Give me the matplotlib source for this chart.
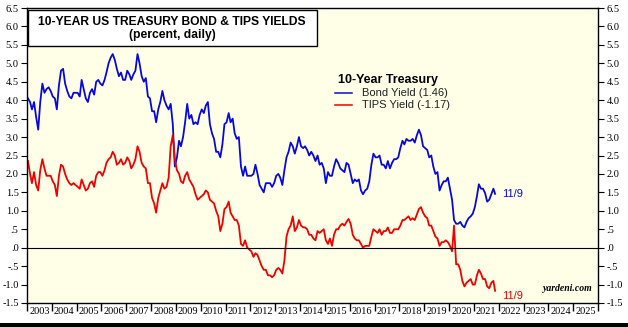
import numpy as np
import pandas as pd
import matplotlib
matplotlib.use("Agg")
import matplotlib.pyplot as plt
import matplotlib.dates as mdates
from matplotlib.patches import Rectangle
from matplotlib.ticker import FuncFormatter, FixedLocator

# Monthly readings, Jan 2003 .. Oct 2021, then the 11/9/2021 close
bond_yield = [
    4.05, 3.95, 3.75, 3.95, 3.55, 3.20, 3.95, 4.45, 4.20, 4.30, 4.35, 4.25,  # 2003
    4.10, 4.05, 3.75, 4.40, 4.80, 4.85, 4.45, 4.25, 4.10, 4.05, 4.20, 4.20,  # 2004
    4.20, 4.10, 4.55, 4.30, 4.05, 3.95, 4.20, 4.30, 4.15, 4.50, 4.55, 4.45,  # 2005
    4.40, 4.55, 4.75, 5.00, 5.15, 5.25, 5.10, 4.85, 4.65, 4.75, 4.55, 4.55,  # 2006
    4.80, 4.70, 4.55, 4.70, 4.80, 5.25, 5.00, 4.65, 4.50, 4.60, 4.10, 4.05,  # 2007
    3.70, 3.70, 3.40, 3.75, 3.95, 4.25, 4.00, 3.85, 3.75, 3.90, 3.35, 2.20,  # 2008
    2.45, 2.90, 2.75, 3.00, 3.40, 3.90, 3.50, 3.60, 3.35, 3.40, 3.35, 3.60,  # 2009
    3.75, 3.65, 3.85, 3.95, 3.35, 3.10, 2.95, 2.60, 2.60, 2.45, 2.80, 3.35,  # 2010
    3.40, 3.65, 3.40, 3.50, 3.10, 2.95, 3.00, 2.20, 1.95, 2.20, 1.95, 1.95,  # 2011
    1.95, 2.00, 2.25, 2.00, 1.70, 1.60, 1.50, 1.75, 1.75, 1.75, 1.65, 1.75,  # 2012
    1.95, 2.00, 1.90, 1.70, 2.10, 2.45, 2.60, 2.85, 2.75, 2.55, 2.75, 3.00,  # 2013
    2.75, 2.70, 2.75, 2.65, 2.50, 2.60, 2.50, 2.35, 2.50, 2.25, 2.30, 2.15,  # 2014
    1.75, 2.05, 1.95, 1.95, 2.20, 2.40, 2.30, 2.15, 2.10, 2.05, 2.30, 2.25,  # 2015
    2.00, 1.75, 1.85, 1.80, 1.85, 1.55, 1.45, 1.55, 1.60, 1.80, 2.25, 2.55,  # 2016
    2.45, 2.45, 2.50, 2.25, 2.25, 2.15, 2.35, 2.15, 2.30, 2.40, 2.40, 2.45,  # 2017
    2.70, 2.90, 2.80, 2.95, 2.90, 2.90, 2.95, 2.85, 3.05, 3.20, 3.05, 2.75,  # 2018
    2.70, 2.65, 2.45, 2.50, 2.20, 2.00, 2.05, 1.55, 1.70, 1.80, 1.80, 1.90,  # 2019
    1.60, 1.30, 0.75, 0.65, 0.65, 0.70, 0.60, 0.55, 0.70, 0.80, 0.85, 0.92,  # 2020
    1.10, 1.40, 1.72, 1.60, 1.60, 1.48, 1.25, 1.30, 1.45, 1.60, 1.46,        # 2021
]

tips_yield = [
    2.35, 2.00, 1.75, 2.05, 1.70, 1.55, 2.10, 2.40, 2.15, 1.95, 1.95, 1.95,  # 2003
    1.80, 1.70, 1.40, 1.95, 2.25, 2.20, 2.00, 1.85, 1.75, 1.70, 1.75, 1.70,  # 2004
    1.65, 1.60, 1.85, 1.70, 1.55, 1.60, 1.75, 1.80, 1.65, 1.95, 2.05, 2.05,  # 2005
    1.95, 2.10, 2.30, 2.40, 2.45, 2.60, 2.50, 2.25, 2.30, 2.40, 2.25, 2.30,  # 2006
    2.45, 2.35, 2.15, 2.25, 2.40, 2.75, 2.60, 2.30, 2.20, 2.15, 1.75, 1.75,  # 2007
    1.35, 1.20, 0.95, 1.35, 1.55, 1.75, 1.60, 1.65, 1.90, 2.75, 3.05, 2.40,  # 2008
    2.10, 2.00, 1.80, 1.75, 1.95, 2.05, 1.85, 1.75, 1.65, 1.45, 1.30, 1.35,  # 2009
    1.40, 1.45, 1.55, 1.50, 1.30, 1.25, 1.20, 1.00, 0.85, 0.45, 0.65, 1.05,  # 2010
    1.10, 1.25, 0.95, 0.85, 0.75, 0.75, 0.60, 0.10, 0.05, 0.20, 0.00, -0.05,  # 2011
    -0.10, -0.25, -0.15, -0.20, -0.35, -0.50, -0.60, -0.60, -0.75, -0.75, -0.80, -0.75,  # 2012
    -0.60, -0.55, -0.60, -0.70, -0.35, 0.30, 0.50, 0.60, 0.85, 0.45, 0.55, 0.75,  # 2013
    0.60, 0.55, 0.55, 0.50, 0.35, 0.35, 0.25, 0.20, 0.45, 0.40, 0.45, 0.50,  # 2014
    0.20, 0.10, 0.25, 0.05, 0.35, 0.50, 0.50, 0.60, 0.65, 0.60, 0.70, 0.78,  # 2015
    0.65, 0.35, 0.25, 0.20, 0.20, 0.10, 0.00, 0.05, 0.05, 0.05, 0.30, 0.50,  # 2016
    0.45, 0.40, 0.50, 0.35, 0.45, 0.45, 0.55, 0.40, 0.40, 0.50, 0.50, 0.50,  # 2017
    0.60, 0.75, 0.75, 0.80, 0.85, 0.75, 0.80, 0.75, 0.90, 1.05, 1.10, 0.95,  # 2018
    0.85, 0.80, 0.60, 0.60, 0.45, 0.30, 0.25, 0.05, 0.15, 0.15, 0.20, 0.15,  # 2019
    0.05, -0.10, 0.60, -0.45, -0.45, -0.60, -0.90, -1.05, -0.95, -0.90, -0.85, -1.00,  # 2020
    -1.00, -0.75, -0.60, -0.70, -0.85, -0.85, -1.05, -1.10, -0.95, -0.90, -1.17,  # 2021
]

month_dates = pd.date_range("2003-01-01", "2021-10-01", freq="MS") + pd.Timedelta(days=14)
dates = list(month_dates) + [pd.Timestamp("2021-11-09")]

years = list(range(2003, 2026))
y_ticks = np.arange(-1.5, 6.51, 0.5)

bg = "#ffffe8"
blue = "#0808dc"
red = "#f00000"
tick_font = "Liberation Serif"
text_font = "Liberation Sans"


def yfmt(v, pos):
    s = f"{v:.1f}"
    return s.replace("0.", ".") if abs(v) < 1 else s


fig = plt.figure(figsize=(6.28, 3.27), dpi=100)
ax = fig.add_axes([27 / 628, 24 / 327, 571 / 628, 295 / 327])
ax.set_facecolor(bg)

ax.plot(dates, bond_yield, color=blue, lw=1.3)
ax.plot(dates, tips_yield, color=red, lw=1.3)
ax.axhline(0, color="black", lw=0.8)

ax.set_xlim(pd.Timestamp("2003-01-01"), pd.Timestamp("2026-01-01"))
ax.set_ylim(-1.5, 6.5)

# year boundaries get the tick marks, labels sit mid-year
ax.xaxis.set_major_locator(FixedLocator(mdates.date2num([pd.Timestamp(f"{y}-01-01") for y in years + [2026]])))
ax.xaxis.set_major_formatter(FuncFormatter(lambda v, p: ""))
ax.xaxis.set_minor_locator(FixedLocator(mdates.date2num([pd.Timestamp(f"{y}-07-02") for y in years])))
ax.xaxis.set_minor_formatter(FuncFormatter(lambda v, p: str(mdates.num2date(v).year)))
ax.tick_params(axis="x", which="major", direction="out", length=6, width=1)
ax.tick_params(axis="x", which="minor", length=0, pad=3, labelsize=7.5)

ax.set_yticks(y_ticks)
ax.yaxis.set_major_formatter(FuncFormatter(yfmt))
ax.tick_params(axis="y", direction="out", length=4, width=0.8, labelsize=7.5,
               left=True, right=True, labelleft=True, labelright=True, pad=2)

for lbl in ax.get_xticklabels(minor=True) + ax.get_yticklabels():
    lbl.set_fontfamily(tick_font)
for t in ax.yaxis.get_major_ticks():
    t.label2.set_fontfamily(tick_font)

for s in ax.spines.values():
    s.set_linewidth(1)
    s.set_color("black")

# title box
fig.patches.append(Rectangle((28 / 628, (327 - 46) / 327), 289 / 628, 36 / 327,
                             transform=fig.transFigure, facecolor="white",
                             edgecolor="black", lw=1, zorder=5))
fig.text(172 / 628, (327 - 22) / 327, "10-YEAR US TREASURY BOND & TIPS YIELDS",
         ha="center", va="center", fontsize=8.7, fontweight="bold",
         family=text_font, zorder=6)
fig.text(172 / 628, (327 - 35) / 327, "(percent, daily)",
         ha="center", va="center", fontsize=8.7, fontweight="bold",
         family=text_font, zorder=6)

# legend block
fig.text(338 / 628, (327 - 80) / 327, "10-Year Treasury", fontsize=9,
         fontweight="bold", va="center", family=text_font)
for yy, col, txt in [(93, blue, "Bond Yield (1.46)"), (105, red, "TIPS Yield (-1.17)")]:
    fig.add_artist(plt.Line2D([335 / 628, 352 / 628], [(327 - yy) / 327] * 2,
                              color=col, lw=1.1, transform=fig.transFigure))
    fig.text(362 / 628, (327 - yy) / 327, txt, fontsize=8, va="center",
             color="#202020", family=text_font)

# end-point dates
ax.annotate("11/9", (dates[-1], bond_yield[-1]), xytext=(5, 0), textcoords="offset points",
            color=blue, fontsize=8, va="center", family=text_font)
ax.annotate("11/9", (dates[-1], tips_yield[-1]), xytext=(5, -4), textcoords="offset points",
            color=red, fontsize=8, va="center", family=text_font)

ax.text(0.99, 0.035, "yardeni.com", transform=ax.transAxes, ha="right", va="bottom",
        fontsize=7, fontweight="bold", fontstyle="italic", family="Liberation Serif")

# dark strip along the bottom edge
fig.patches.append(Rectangle((0, 0), 1, 4.5 / 327, transform=fig.transFigure,
                             facecolor="black", edgecolor="none"))

fig.savefig("out.png", dpi=100, facecolor="white")
